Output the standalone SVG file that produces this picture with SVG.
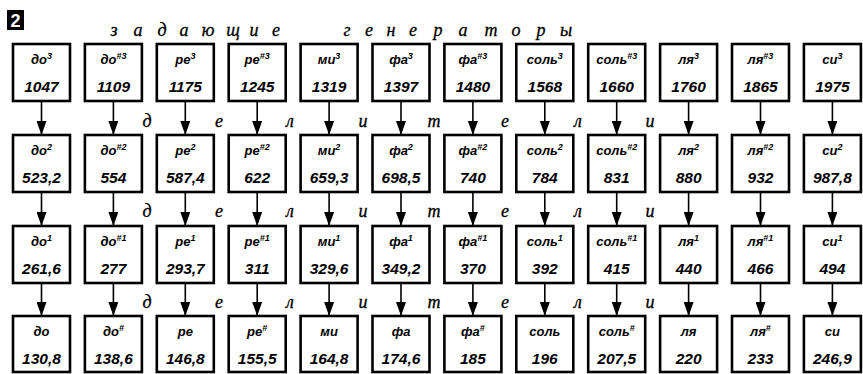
<svg xmlns="http://www.w3.org/2000/svg" width="863" height="374" viewBox="0 0 863 374">
<style>
rect.b{fill:#fff;stroke:#000;stroke-width:2.6}
.nm{font-family:"Liberation Sans",Arial,sans-serif;font-style:italic;font-weight:bold;font-size:13px;text-anchor:middle;fill:#000}
.sp{font-size:9px}
.nu{font-family:"Liberation Sans",Arial,sans-serif;font-style:italic;font-weight:bold;font-size:15.5px;text-anchor:middle;fill:#000}
.lt{font-family:"Liberation Serif","Times New Roman",serif;font-style:italic;font-size:18px;text-anchor:middle;fill:#000;stroke:#000;stroke-width:0.3}
#conn line{stroke:#000;stroke-width:1.6}
</style>
<defs>
<marker id="ah" viewBox="0 0 14 10" markerWidth="14" markerHeight="10" refX="14" refY="5" orient="auto" markerUnits="userSpaceOnUse"><path d="M0,0 L14,5 L0,10 z" fill="#000"/></marker>
</defs>
<rect width="863" height="374" fill="#fff"/>
<g id="badge"><rect x="7" y="10" width="17" height="20" fill="#000"/><text x="15.5" y="27" font-family="Liberation Sans,Arial,sans-serif" font-weight="bold" font-size="18" text-anchor="middle" fill="#fff">2</text></g>
<g id="title">
<text class="lt" x="114" y="36">з</text><text class="lt" x="138" y="36">а</text><text class="lt" x="162" y="36">д</text><text class="lt" x="184" y="36">а</text><text class="lt" x="208" y="36">ю</text><text class="lt" x="233" y="36">щ</text><text class="lt" x="254" y="36">и</text><text class="lt" x="276" y="36">е</text>
<text class="lt" x="347" y="36">г</text><text class="lt" x="369" y="36">е</text><text class="lt" x="391" y="36">н</text><text class="lt" x="413" y="36">е</text><text class="lt" x="438" y="36">р</text><text class="lt" x="463" y="36">а</text><text class="lt" x="491" y="36">т</text><text class="lt" x="516" y="36">о</text><text class="lt" x="541" y="36">р</text><text class="lt" x="566" y="36">ы</text>
</g>
<g id="dividers">
<text class="lt" x="147" y="127">д</text><text class="lt" x="219" y="127">е</text><text class="lt" x="290" y="127">л</text><text class="lt" x="363" y="127">и</text><text class="lt" x="434" y="127">т</text><text class="lt" x="505" y="127">е</text><text class="lt" x="578" y="127">л</text><text class="lt" x="650" y="127">и</text>
<text class="lt" x="147" y="217">д</text><text class="lt" x="219" y="217">е</text><text class="lt" x="290" y="217">л</text><text class="lt" x="363" y="217">и</text><text class="lt" x="434" y="217">т</text><text class="lt" x="505" y="217">е</text><text class="lt" x="578" y="217">л</text><text class="lt" x="650" y="217">и</text>
<text class="lt" x="147" y="308">д</text><text class="lt" x="219" y="308">е</text><text class="lt" x="290" y="308">л</text><text class="lt" x="363" y="308">и</text><text class="lt" x="434" y="308">т</text><text class="lt" x="505" y="308">е</text><text class="lt" x="578" y="308">л</text><text class="lt" x="650" y="308">и</text>
</g>
<g id="conn">
<line x1="41.5" y1="101" x2="41.5" y2="135" marker-end="url(#ah)"/><line x1="113.4" y1="101" x2="113.4" y2="135" marker-end="url(#ah)"/><line x1="185.3" y1="101" x2="185.3" y2="135" marker-end="url(#ah)"/><line x1="257.2" y1="101" x2="257.2" y2="135" marker-end="url(#ah)"/><line x1="329.1" y1="101" x2="329.1" y2="135" marker-end="url(#ah)"/><line x1="401" y1="101" x2="401" y2="135" marker-end="url(#ah)"/><line x1="472.9" y1="101" x2="472.9" y2="135" marker-end="url(#ah)"/><line x1="544.8" y1="101" x2="544.8" y2="135" marker-end="url(#ah)"/><line x1="616.7" y1="101" x2="616.7" y2="135" marker-end="url(#ah)"/><line x1="688.6" y1="101" x2="688.6" y2="135" marker-end="url(#ah)"/><line x1="760.5" y1="101" x2="760.5" y2="135" marker-end="url(#ah)"/><line x1="832.4" y1="101" x2="832.4" y2="135" marker-end="url(#ah)"/>
<line x1="41.5" y1="192" x2="41.5" y2="226" marker-end="url(#ah)"/><line x1="113.4" y1="192" x2="113.4" y2="226" marker-end="url(#ah)"/><line x1="185.3" y1="192" x2="185.3" y2="226" marker-end="url(#ah)"/><line x1="257.2" y1="192" x2="257.2" y2="226" marker-end="url(#ah)"/><line x1="329.1" y1="192" x2="329.1" y2="226" marker-end="url(#ah)"/><line x1="401" y1="192" x2="401" y2="226" marker-end="url(#ah)"/><line x1="472.9" y1="192" x2="472.9" y2="226" marker-end="url(#ah)"/><line x1="544.8" y1="192" x2="544.8" y2="226" marker-end="url(#ah)"/><line x1="616.7" y1="192" x2="616.7" y2="226" marker-end="url(#ah)"/><line x1="688.6" y1="192" x2="688.6" y2="226" marker-end="url(#ah)"/><line x1="760.5" y1="192" x2="760.5" y2="226" marker-end="url(#ah)"/><line x1="832.4" y1="192" x2="832.4" y2="226" marker-end="url(#ah)"/>
<line x1="41.5" y1="283" x2="41.5" y2="316" marker-end="url(#ah)"/><line x1="113.4" y1="283" x2="113.4" y2="316" marker-end="url(#ah)"/><line x1="185.3" y1="283" x2="185.3" y2="316" marker-end="url(#ah)"/><line x1="257.2" y1="283" x2="257.2" y2="316" marker-end="url(#ah)"/><line x1="329.1" y1="283" x2="329.1" y2="316" marker-end="url(#ah)"/><line x1="401" y1="283" x2="401" y2="316" marker-end="url(#ah)"/><line x1="472.9" y1="283" x2="472.9" y2="316" marker-end="url(#ah)"/><line x1="544.8" y1="283" x2="544.8" y2="316" marker-end="url(#ah)"/><line x1="616.7" y1="283" x2="616.7" y2="316" marker-end="url(#ah)"/><line x1="688.6" y1="283" x2="688.6" y2="316" marker-end="url(#ah)"/><line x1="760.5" y1="283" x2="760.5" y2="316" marker-end="url(#ah)"/><line x1="832.4" y1="283" x2="832.4" y2="316" marker-end="url(#ah)"/>
</g>
<g id="row3">
<g id="do3"><rect class="b" x="13" y="44" width="57" height="57"/><text class="nm" x="41.5" y="64">до<tspan class="sp" dy="-5">3</tspan></text><text class="nu" x="41.5" y="92">1047</text></g>
<g id="dos3"><rect class="b" x="84.9" y="44" width="57" height="57"/><text class="nm" x="113.4" y="64">до<tspan class="sp" dy="-5">#3</tspan></text><text class="nu" x="113.4" y="92">1109</text></g>
<g id="re3"><rect class="b" x="156.8" y="44" width="57" height="57"/><text class="nm" x="185.3" y="64">ре<tspan class="sp" dy="-5">3</tspan></text><text class="nu" x="185.3" y="92">1175</text></g>
<g id="res3"><rect class="b" x="228.7" y="44" width="57" height="57"/><text class="nm" x="257.2" y="64">ре<tspan class="sp" dy="-5">#3</tspan></text><text class="nu" x="257.2" y="92">1245</text></g>
<g id="mi3"><rect class="b" x="300.6" y="44" width="57" height="57"/><text class="nm" x="329.1" y="64">ми<tspan class="sp" dy="-5">3</tspan></text><text class="nu" x="329.1" y="92">1319</text></g>
<g id="fa3"><rect class="b" x="372.5" y="44" width="57" height="57"/><text class="nm" x="401" y="64">фа<tspan class="sp" dy="-5">3</tspan></text><text class="nu" x="401" y="92">1397</text></g>
<g id="fas3"><rect class="b" x="444.4" y="44" width="57" height="57"/><text class="nm" x="472.9" y="64">фа<tspan class="sp" dy="-5">#3</tspan></text><text class="nu" x="472.9" y="92">1480</text></g>
<g id="sol3"><rect class="b" x="516.3" y="44" width="57" height="57"/><text class="nm" x="544.8" y="64">соль<tspan class="sp" dy="-5">3</tspan></text><text class="nu" x="544.8" y="92">1568</text></g>
<g id="sols3"><rect class="b" x="588.2" y="44" width="57" height="57"/><text class="nm" x="616.7" y="64">соль<tspan class="sp" dy="-5">#3</tspan></text><text class="nu" x="616.7" y="92">1660</text></g>
<g id="la3"><rect class="b" x="660.1" y="44" width="57" height="57"/><text class="nm" x="688.6" y="64">ля<tspan class="sp" dy="-5">3</tspan></text><text class="nu" x="688.6" y="92">1760</text></g>
<g id="las3"><rect class="b" x="732" y="44" width="57" height="57"/><text class="nm" x="760.5" y="64">ля<tspan class="sp" dy="-5">#3</tspan></text><text class="nu" x="760.5" y="92">1865</text></g>
<g id="si3"><rect class="b" x="803.9" y="44" width="57" height="57"/><text class="nm" x="832.4" y="64">си<tspan class="sp" dy="-5">3</tspan></text><text class="nu" x="832.4" y="92">1975</text></g>
</g>
<g id="row2">
<g id="do2"><rect class="b" x="13" y="135" width="57" height="57"/><text class="nm" x="41.5" y="155">до<tspan class="sp" dy="-5">2</tspan></text><text class="nu" x="41.5" y="183">523,2</text></g>
<g id="dos2"><rect class="b" x="84.9" y="135" width="57" height="57"/><text class="nm" x="113.4" y="155">до<tspan class="sp" dy="-5">#2</tspan></text><text class="nu" x="113.4" y="183">554</text></g>
<g id="re2"><rect class="b" x="156.8" y="135" width="57" height="57"/><text class="nm" x="185.3" y="155">ре<tspan class="sp" dy="-5">2</tspan></text><text class="nu" x="185.3" y="183">587,4</text></g>
<g id="res2"><rect class="b" x="228.7" y="135" width="57" height="57"/><text class="nm" x="257.2" y="155">ре<tspan class="sp" dy="-5">#2</tspan></text><text class="nu" x="257.2" y="183">622</text></g>
<g id="mi2"><rect class="b" x="300.6" y="135" width="57" height="57"/><text class="nm" x="329.1" y="155">ми<tspan class="sp" dy="-5">2</tspan></text><text class="nu" x="329.1" y="183">659,3</text></g>
<g id="fa2"><rect class="b" x="372.5" y="135" width="57" height="57"/><text class="nm" x="401" y="155">фа<tspan class="sp" dy="-5">2</tspan></text><text class="nu" x="401" y="183">698,5</text></g>
<g id="fas2"><rect class="b" x="444.4" y="135" width="57" height="57"/><text class="nm" x="472.9" y="155">фа<tspan class="sp" dy="-5">#2</tspan></text><text class="nu" x="472.9" y="183">740</text></g>
<g id="sol2"><rect class="b" x="516.3" y="135" width="57" height="57"/><text class="nm" x="544.8" y="155">соль<tspan class="sp" dy="-5">2</tspan></text><text class="nu" x="544.8" y="183">784</text></g>
<g id="sols2"><rect class="b" x="588.2" y="135" width="57" height="57"/><text class="nm" x="616.7" y="155">соль<tspan class="sp" dy="-5">#2</tspan></text><text class="nu" x="616.7" y="183">831</text></g>
<g id="la2"><rect class="b" x="660.1" y="135" width="57" height="57"/><text class="nm" x="688.6" y="155">ля<tspan class="sp" dy="-5">2</tspan></text><text class="nu" x="688.6" y="183">880</text></g>
<g id="las2"><rect class="b" x="732" y="135" width="57" height="57"/><text class="nm" x="760.5" y="155">ля<tspan class="sp" dy="-5">#2</tspan></text><text class="nu" x="760.5" y="183">932</text></g>
<g id="si2"><rect class="b" x="803.9" y="135" width="57" height="57"/><text class="nm" x="832.4" y="155">си<tspan class="sp" dy="-5">2</tspan></text><text class="nu" x="832.4" y="183">987,8</text></g>
</g>
<g id="row1">
<g id="do1"><rect class="b" x="13" y="226" width="57" height="57"/><text class="nm" x="41.5" y="246">до<tspan class="sp" dy="-5">1</tspan></text><text class="nu" x="41.5" y="274">261,6</text></g>
<g id="dos1"><rect class="b" x="84.9" y="226" width="57" height="57"/><text class="nm" x="113.4" y="246">до<tspan class="sp" dy="-5">#1</tspan></text><text class="nu" x="113.4" y="274">277</text></g>
<g id="re1"><rect class="b" x="156.8" y="226" width="57" height="57"/><text class="nm" x="185.3" y="246">ре<tspan class="sp" dy="-5">1</tspan></text><text class="nu" x="185.3" y="274">293,7</text></g>
<g id="res1"><rect class="b" x="228.7" y="226" width="57" height="57"/><text class="nm" x="257.2" y="246">ре<tspan class="sp" dy="-5">#1</tspan></text><text class="nu" x="257.2" y="274">311</text></g>
<g id="mi1"><rect class="b" x="300.6" y="226" width="57" height="57"/><text class="nm" x="329.1" y="246">ми<tspan class="sp" dy="-5">1</tspan></text><text class="nu" x="329.1" y="274">329,6</text></g>
<g id="fa1"><rect class="b" x="372.5" y="226" width="57" height="57"/><text class="nm" x="401" y="246">фа<tspan class="sp" dy="-5">1</tspan></text><text class="nu" x="401" y="274">349,2</text></g>
<g id="fas1"><rect class="b" x="444.4" y="226" width="57" height="57"/><text class="nm" x="472.9" y="246">фа<tspan class="sp" dy="-5">#1</tspan></text><text class="nu" x="472.9" y="274">370</text></g>
<g id="sol1"><rect class="b" x="516.3" y="226" width="57" height="57"/><text class="nm" x="544.8" y="246">соль<tspan class="sp" dy="-5">1</tspan></text><text class="nu" x="544.8" y="274">392</text></g>
<g id="sols1"><rect class="b" x="588.2" y="226" width="57" height="57"/><text class="nm" x="616.7" y="246">соль<tspan class="sp" dy="-5">#1</tspan></text><text class="nu" x="616.7" y="274">415</text></g>
<g id="la1"><rect class="b" x="660.1" y="226" width="57" height="57"/><text class="nm" x="688.6" y="246">ля<tspan class="sp" dy="-5">1</tspan></text><text class="nu" x="688.6" y="274">440</text></g>
<g id="las1"><rect class="b" x="732" y="226" width="57" height="57"/><text class="nm" x="760.5" y="246">ля<tspan class="sp" dy="-5">#1</tspan></text><text class="nu" x="760.5" y="274">466</text></g>
<g id="si1"><rect class="b" x="803.9" y="226" width="57" height="57"/><text class="nm" x="832.4" y="246">си<tspan class="sp" dy="-5">1</tspan></text><text class="nu" x="832.4" y="274">494</text></g>
</g>
<g id="row0">
<g id="do0"><rect class="b" x="13" y="316" width="57" height="56"/><text class="nm" x="41.5" y="336">до</text><text class="nu" x="41.5" y="364">130,8</text></g>
<g id="dos0"><rect class="b" x="84.9" y="316" width="57" height="56"/><text class="nm" x="113.4" y="336">до<tspan class="sp" dy="-5">#</tspan></text><text class="nu" x="113.4" y="364">138,6</text></g>
<g id="re0"><rect class="b" x="156.8" y="316" width="57" height="56"/><text class="nm" x="185.3" y="336">ре</text><text class="nu" x="185.3" y="364">146,8</text></g>
<g id="res0"><rect class="b" x="228.7" y="316" width="57" height="56"/><text class="nm" x="257.2" y="336">ре<tspan class="sp" dy="-5">#</tspan></text><text class="nu" x="257.2" y="364">155,5</text></g>
<g id="mi0"><rect class="b" x="300.6" y="316" width="57" height="56"/><text class="nm" x="329.1" y="336">ми</text><text class="nu" x="329.1" y="364">164,8</text></g>
<g id="fa0"><rect class="b" x="372.5" y="316" width="57" height="56"/><text class="nm" x="401" y="336">фа</text><text class="nu" x="401" y="364">174,6</text></g>
<g id="fas0"><rect class="b" x="444.4" y="316" width="57" height="56"/><text class="nm" x="472.9" y="336">фа<tspan class="sp" dy="-5">#</tspan></text><text class="nu" x="472.9" y="364">185</text></g>
<g id="sol0"><rect class="b" x="516.3" y="316" width="57" height="56"/><text class="nm" x="544.8" y="336">соль</text><text class="nu" x="544.8" y="364">196</text></g>
<g id="sols0"><rect class="b" x="588.2" y="316" width="57" height="56"/><text class="nm" x="616.7" y="336">соль<tspan class="sp" dy="-5">#</tspan></text><text class="nu" x="616.7" y="364">207,5</text></g>
<g id="la0"><rect class="b" x="660.1" y="316" width="57" height="56"/><text class="nm" x="688.6" y="336">ля</text><text class="nu" x="688.6" y="364">220</text></g>
<g id="las0"><rect class="b" x="732" y="316" width="57" height="56"/><text class="nm" x="760.5" y="336">ля<tspan class="sp" dy="-5">#</tspan></text><text class="nu" x="760.5" y="364">233</text></g>
<g id="si0"><rect class="b" x="803.9" y="316" width="57" height="56"/><text class="nm" x="832.4" y="336">си</text><text class="nu" x="832.4" y="364">246,9</text></g>
</g>
</svg>
